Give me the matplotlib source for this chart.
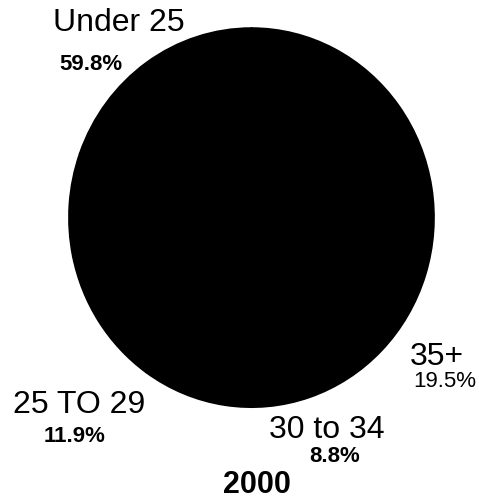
import matplotlib
matplotlib.use("Agg")
import matplotlib.pyplot as plt

# --- Dados ---
categories = ["Under 25", "25 TO 29", "30 to 34", "35+"]
shares = [59.8, 11.9, 8.8, 19.5]
pct_labels = ["59.8%", "11.9%", "8.8%", "19.5%"]
year = "2000"

plt.rcParams['font.family'] = ['Liberation Sans', 'DejaVu Sans']

fig = plt.figure(figsize=(4.79, 5.02), dpi=100)
ax = fig.add_axes([0.142, 0.185, 0.766, 0.759])

# todas as fatias a preto, contorno preto para esconder as juntas
ax.pie(shares, colors=['black'] * len(shares), startangle=90, counterclock=False,
       wedgeprops=dict(linewidth=1.2, edgecolor='black'))
ax.set_aspect('auto')
ax.set_xlim(-1.005, 1.005)
ax.set_ylim(-1.005, 1.005)
ax.axis('off')

# posicoes dos rotulos (px -> fracao da figura)
W, H = 479, 502
name_pos = [(119, 23), (79, 405), (327, 430), (437, 357)]
pct_pos = [(91, 64), (75, 437), (335, 457), (445, 382)]
pct_weight = ['bold', 'bold', 'bold', 'normal']

for name, (x, y) in zip(categories, name_pos):
    fig.text(x / W, 1 - y / H, name, ha='center', va='center', fontsize=23)
for lab, (x, y), w in zip(pct_labels, pct_pos, pct_weight):
    fig.text(x / W, 1 - y / H, lab, ha='center', va='center', fontsize=16, fontweight=w)

fig.text(257 / W, 1 - 485 / H, year, ha='center', va='center', fontsize=22, fontweight='bold')

fig.savefig('out.png', dpi=100, facecolor='white')
